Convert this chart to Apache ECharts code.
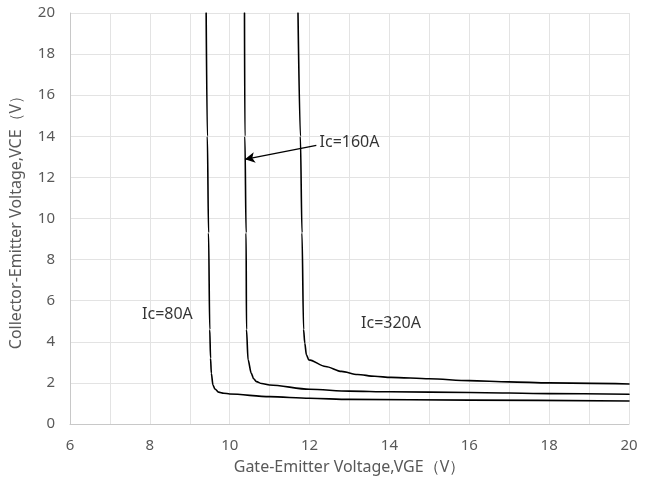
<!DOCTYPE html>
<html>
<head>
<meta charset="utf-8">
<script src="https://cdn.jsdelivr.net/npm/echarts@6/dist/echarts.min.js"></script>
<style>html,body{margin:0;padding:0;background:#fff}#c{width:654px;height:484px}</style>
</head>
<body>
<div id="c"></div>
<script>
// Curve data [VGE, VCE]
const ic80 = [[9.41,20],[9.44,14],[9.47,9.3],[9.5,4.6],[9.52,3.2],[9.54,2.47],[9.58,1.9],[9.63,1.7],[9.72,1.55],[9.85,1.5],[10,1.46],[11,1.33],[12,1.25],[13,1.2],[16,1.16],[20,1.12]];
const ic160 = [[10.37,20],[10.38,14],[10.41,9.3],[10.42,4.6],[10.46,3.12],[10.54,2.47],[10.6,2.2],[10.67,2.06],[10.8,1.97],[11,1.9],[12,1.69],[13,1.6],[14,1.57],[16,1.53],[18,1.48],[20,1.45]];
const ic320 = [[11.71,20],[11.77,14],[11.81,9.3],[11.85,4.6],[11.88,3.94],[11.92,3.37],[11.98,3.12],[12.4,2.8],[12.8,2.56],[13.2,2.41],[13.63,2.32],[14.04,2.27],[15,2.2],[16,2.11],[17,2.05],[18,2.0],[20,1.95]];
const labels = [[8.44,5.32,'Ic=80A'],[14.04,4.88,'Ic=320A'],[13.0,13.7,'Ic=160A']];
const arrow = [[12.17,13.56],[10.38,12.88]];
const xAxisName = 'Gate-Emitter Voltage,VGE（V）';
const yAxisName = 'Collector-Emitter Voltage,VCE（V）';

const chart = echarts.init(document.getElementById('c'));
const font = '"Noto Sans", "Open Sans", sans-serif';
const lineSeries = (d) => ({
  type: 'line', data: d, showSymbol: false, smooth: 0.3, smoothMonotone: 'x',
  lineStyle: { color: '#000', width: 1.6, join: 'round', cap: 'round' }, silent: true, z: 3
});
const s160 = lineSeries(ic160);
s160.markLine = {
  silent: true, symbol: ['none', 'arrow'], symbolSize: [8, 10],
  label: { show: false },
  lineStyle: { color: '#000', width: 1.3, type: 'solid' },
  data: [[{ coord: arrow[0] }, { coord: arrow[1] }]]
};
chart.setOption({
  animation: false,
  textStyle: { fontFamily: font },
  grid: { left: 68, right: 25, top: 13, bottom: 60 },
  xAxis: {
    type: 'value', min: 6, max: 20, interval: 2,
    name: xAxisName, nameLocation: 'middle', nameGap: 35,
    nameTextStyle: { color: '#595959', fontSize: 16, fontFamily: font },
    axisLine: { show: true, lineStyle: { color: '#c8c8c8' } },
    axisTick: { show: false },
    axisLabel: { color: '#595959', fontSize: 15, margin: 14 },
    splitLine: { show: true, lineStyle: { color: '#e3e3e3' } },
    minorTick: { show: false, splitNumber: 2 },
    minorSplitLine: { show: true, lineStyle: { color: '#e3e3e3' } }
  },
  yAxis: {
    type: 'value', min: 0, max: 20, interval: 2,
    name: yAxisName, nameLocation: 'middle', nameGap: 46,
    nameTextStyle: { color: '#595959', fontSize: 16, fontFamily: font },
    axisLine: { show: true, lineStyle: { color: '#c8c8c8' } },
    axisTick: { show: false },
    axisLabel: { color: '#595959', fontSize: 15, margin: 15 },
    splitLine: { show: true, lineStyle: { color: '#e3e3e3' } }
  },
  series: [
    lineSeries(ic80),
    s160,
    lineSeries(ic320),
    {
      type: 'scatter', data: labels, symbolSize: 0, silent: true,
      label: { show: true, position: 'inside', formatter: p => p.data[2], color: '#000', fontSize: 16, fontFamily: font }
    }
  ]
});
</script>
</body>
</html>
